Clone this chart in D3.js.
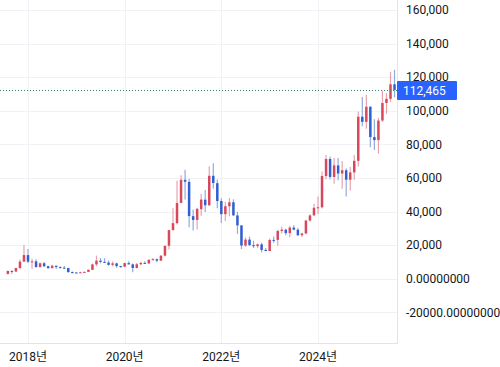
<!DOCTYPE html>
<html><head><meta charset="utf-8">
<script src="https://cdn.jsdelivr.net/npm/d3@7/dist/d3.min.js"></script>
<style>
html,body{margin:0;padding:0;background:#fff;}
svg{display:block;}
text{font-family:Roboto,"Noto Sans CJK KR",sans-serif;font-size:12px;fill:#131722;}
</style></head>
<body>
<svg id="c" width="500" height="367"></svg>
<script>
// Monthly candles, 2017-08 .. 2025-08
const months = ["2017-08","2017-09","2017-10","2017-11","2017-12",
"2018-01","2018-02","2018-03","2018-04","2018-05","2018-06","2018-07","2018-08","2018-09","2018-10","2018-11","2018-12",
"2019-01","2019-02","2019-03","2019-04","2019-05","2019-06","2019-07","2019-08","2019-09","2019-10","2019-11","2019-12",
"2020-01","2020-02","2020-03","2020-04","2020-05","2020-06","2020-07","2020-08","2020-09","2020-10","2020-11","2020-12",
"2021-01","2021-02","2021-03","2021-04","2021-05","2021-06","2021-07","2021-08","2021-09","2021-10","2021-11","2021-12",
"2022-01","2022-02","2022-03","2022-04","2022-05","2022-06","2022-07","2022-08","2022-09","2022-10","2022-11","2022-12",
"2023-01","2023-02","2023-03","2023-04","2023-05","2023-06","2023-07","2023-08","2023-09","2023-10","2023-11","2023-12",
"2024-01","2024-02","2024-03","2024-04","2024-05","2024-06","2024-07","2024-08","2024-09","2024-10","2024-11","2024-12",
"2025-01","2025-02","2025-03","2025-04","2025-05","2025-06","2025-07","2025-08"];
const openV = [2871,4701,4341,6441,10198,
14112,10237,10385,7003,9251,7500,6411,7769,7044,6619,6377,4024,
3746,3460,3853,4106,5350,8573,10796,10077,9630,8300,9194,7571,
7194,9346,8600,6438,8672,9463,9145,11322,11679,10795,13780,19633,
28994,33115,45159,58926,57715,37293,35036,41461,47099,43817,61320,56907,
46311,38481,43194,45554,37713,31792,19820,23336,20050,19431,20495,17168,
16548,23150,23150,28473,29227,27218,30471,29231,25934,26967,34660,37718,
42280,42570,61169,71333,60610,67489,62673,64625,58970,63335,70216,96461,
93425,102405,84373,82550,94210,104638,107135,115758];
const highV = [4736,4975,6470,11517,20089,
17712,11958,11708,9745,9964,7754,8424,7769,7388,7680,6547,4309,
4110,4210,4297,5642,9074,13796,12273,12274,10898,10370,9505,7743,
9578,10458,9167,9440,10067,10380,11434,12359,12067,14024,19750,29244,
41946,58330,61683,64863,59519,41295,42235,50482,52853,66930,68789,59041,
47881,45661,48086,47313,39902,31957,24572,25135,22673,20988,21446,18318,
23919,25134,29159,31000,29820,31389,31804,30176,27483,35150,38415,44700,
48969,63913,73750,72797,71946,71949,70016,65593,66480,73620,99655,108268,
109588,102755,95043,95758,111970,110530,123218,124457];
const lowV = [2580,2972,4106,5519,10198,
9402,6048,6675,6526,7090,5826,6111,5880,6123,6174,3585,3156,
3400,3397,3792,4096,5350,7564,9164,9467,7830,7446,6617,6540,
6914,8470,3858,6202,8130,8975,8977,10994,9916,10557,13218,17650,
28722,32384,45115,47159,30681,28805,29360,37458,39787,43320,53569,42000,
33184,34459,37261,37698,26700,17708,18966,19600,18290,18319,15599,16398,
16521,21451,19628,27070,25878,24797,28934,25409,24930,26558,34097,37629,
38555,41884,59323,59191,56555,58604,53550,49050,52550,58895,66835,90743,
89256,78249,76625,74589,93375,98240,105300,108000];
const closeV = [4703,4339,6468,10233,14157,
10221,10397,6973,9240,7494,6404,7780,7037,6626,6371,4017,3743,
3457,3854,4105,5351,8574,10817,10085,9630,8293,9199,7569,7193,
9350,8599,6438,8658,9461,9137,11323,11680,10784,13781,19625,29002,
33114,45138,58918,57750,37332,35040,41626,47166,43790,61318,57005,46306,
38483,43193,45538,37714,31792,19784,23336,20050,19432,20495,17168,16547,
23139,23147,28478,29268,27219,30477,29231,25931,26967,34667,37712,42265,
42582,61198,71333,60636,67491,62678,64620,58974,63330,70215,96450,93429,
102406,84373,82550,94207,104638,107135,115758,112465];

const yTicks = [-20000,0,20000,40000,60000,80000,100000,120000,140000,160000];
const yTickLabels = ["-20000.00000000","0.00000000","20,000","40,000","60,000","80,000","100,000","120,000","140,000","160,000"];
const xTickMonths = ["2018-01","2020-01","2022-01","2024-01"];
const xTickLabels = ["2018년","2020년","2022년","2024년"];
const lastPrice = 112465;
const lastPriceLabel = "112,465";

const svg = d3.select("#c");
const W = 397, H = 343;
const idx = m => months.indexOf(m);
const x = d3.scaleLinear().domain([idx("2018-01"), idx("2024-01")]).range([28, 318]);
const y = d3.scaleLinear().domain([-38214, 165952]).range([H, 0]);

// grid
const g = svg.append("g");
g.selectAll("line.h").data(yTicks).enter().append("line")
  .attr("x1",0).attr("x2",W).attr("y1",d=>Math.round(y(d))+0.5).attr("y2",d=>Math.round(y(d))+0.5)
  .attr("stroke","#f0f2f5").attr("stroke-width",1);
g.selectAll("line.v").data(xTickMonths).enter().append("line")
  .attr("y1",0).attr("y2",H).attr("x1",d=>Math.round(x(idx(d)))+0.5).attr("x2",d=>Math.round(x(idx(d)))+0.5)
  .attr("stroke","#f0f2f5").attr("stroke-width",1);
// borders
svg.append("line").attr("x1",W+0.5).attr("x2",W+0.5).attr("y1",0).attr("y2",H+0.5).attr("stroke","#e0e3eb");
svg.append("line").attr("x1",0).attr("x2",W+0.5).attr("y1",H+0.5).attr("y2",H+0.5).attr("stroke","#e0e3eb");

// candles
const data = months.map((m,i)=>({m,i,o:openV[i],h:highV[i],l:lowV[i],c:closeV[i]}));
const up = "#d8485d", down = "#2f5fd3", upW = "#e9a2ad", downW = "#93aadc";
const cg = svg.append("g");
cg.selectAll("line.w").data(data).enter().append("line")
  .attr("x1",d=>x(d.i)).attr("x2",d=>x(d.i))
  .attr("y1",d=>y(d.h)).attr("y2",d=>y(d.l))
  .attr("stroke",d=>d.c>=d.o?upW:downW).attr("stroke-width",1.2);
const bw = 2.5;
cg.selectAll("rect").data(data).enter().append("rect")
  .attr("x",d=>x(d.i)-bw/2).attr("width",bw)
  .attr("y",d=>y(Math.max(d.o,d.c)))
  .attr("height",d=>Math.max(1,Math.abs(y(d.o)-y(d.c))))
  .attr("fill",d=>d.c>=d.o?up:down);

// last price line
const ly = Math.round(y(lastPrice))+0.5;
svg.append("line").attr("x1",0).attr("x2",W).attr("y1",ly).attr("y2",ly)
  .attr("stroke","#3d7a68").attr("stroke-width",1).attr("stroke-dasharray","1,2");

// y axis labels
svg.selectAll("text.yl").data(yTicks).enter().append("text")
  .attr("x",406).attr("y",d=>y(d)).attr("dy","0.35em")
  .text((d,i)=>yTickLabels[i]);

// price label
svg.append("rect").attr("x",W).attr("y",ly-9.5).attr("width",60).attr("height",19).attr("rx",1).attr("fill","#2962ff");
svg.append("text").attr("x",403).attr("y",ly).attr("dy","0.35em").style("fill","#fff").text(lastPriceLabel);

// x axis labels
svg.selectAll("text.xl").data(xTickMonths).enter().append("text")
  .attr("x",d=>x(idx(d))).attr("y",357).attr("dy","0.35em").attr("text-anchor","middle")
  .text((d,i)=>xTickLabels[i]);
</script>
</body></html>
